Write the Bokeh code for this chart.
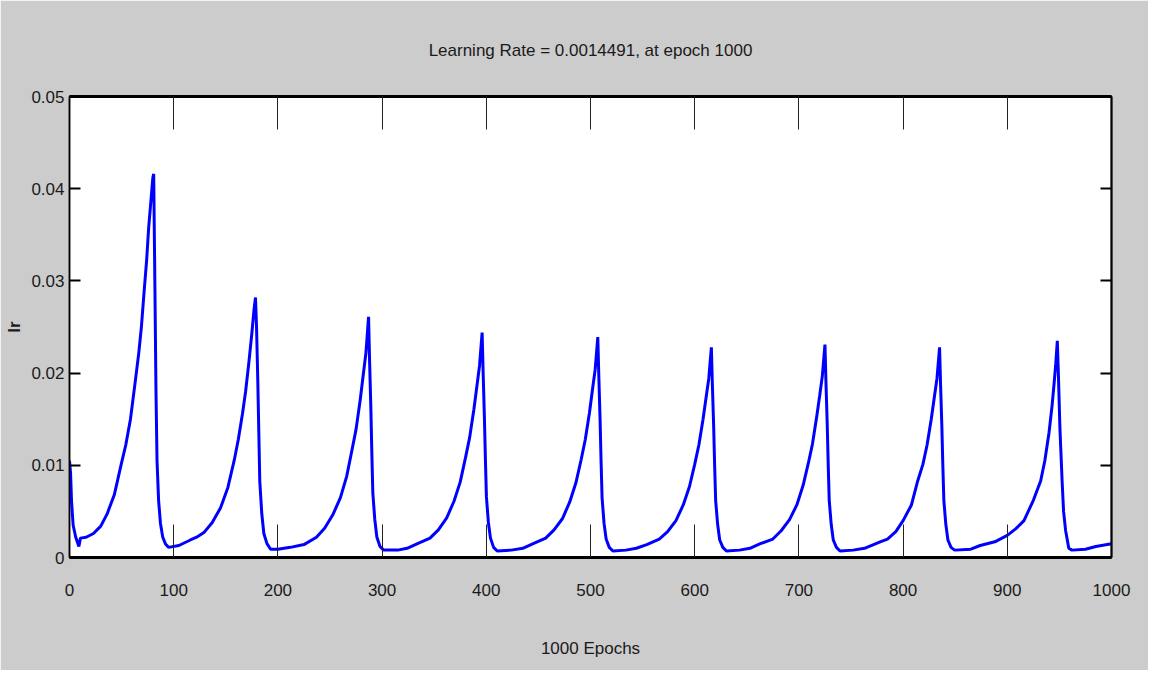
from bokeh.plotting import figure
from bokeh.models import Range1d, LinearAxis, FixedTicker, CustomJSTickFormatter
from bokeh.embed import file_html
from bokeh.resources import INLINE

# ---- data (epoch, learning rate) ----
c1_epoch = [0, 1, 2, 3.5, 6, 9, 10.5, 16, 23, 30, 36, 43, 49, 54, 58.5, 63, 66.5, 69, 71.5, 74, 76, 78, 80, 80.8,
            82, 83, 84, 85.5, 87.3, 89.5, 92, 95, 105]
c1_lr = [0.0105, 0.0092, 0.0060, 0.0035, 0.0022, 0.0012, 0.0021, 0.0022, 0.0026, 0.0034, 0.0047, 0.0068, 0.0098,
         0.0122, 0.0150, 0.0190, 0.0222, 0.0250, 0.0287, 0.0322, 0.0358, 0.0385, 0.0412, 0.0416,
         0.0290, 0.0180, 0.0105, 0.0062, 0.0037, 0.0022, 0.0015, 0.0011, 0.0013]

c2_epoch = [116, 122, 129, 137, 145, 152, 158, 162, 166, 169, 172, 175, 177, 178.5, 179.5, 180.7, 181.7, 182.6,
            184.5, 186.5, 189.5, 193, 200, 212]
c2_lr = [0.0019, 0.0022, 0.0027, 0.0038, 0.0054, 0.0076, 0.0105, 0.0128, 0.0156, 0.0180, 0.0210, 0.0243, 0.0268,
         0.0282, 0.0250, 0.0192, 0.0135, 0.0083, 0.0048, 0.0026, 0.0015, 0.0009, 0.0009, 0.0011]

c3_epoch = [225, 237, 245, 253, 260, 266, 271, 275, 279, 282, 284.5, 287, 288, 289.2, 290.2, 291.1, 293, 295, 298,
            301.5, 315]
c3_lr = [0.0014, 0.0022, 0.0032, 0.0047, 0.0065, 0.0088, 0.0116, 0.0139, 0.0171, 0.0199, 0.0222, 0.0261, 0.0213,
         0.0162, 0.0111, 0.0070, 0.0041, 0.0022, 0.0012, 0.0008, 0.0008]

c4_epoch = [324, 334, 346, 354, 362, 369, 375, 380, 384, 388, 391, 393.5, 396, 397, 398.2, 399.2, 400.1, 402, 404,
            407, 410.5, 424]
c4_lr = [0.0010, 0.0015, 0.0021, 0.0030, 0.0043, 0.0061, 0.0082, 0.0108, 0.0130, 0.0160, 0.0186, 0.0208, 0.0244,
         0.0199, 0.0151, 0.0104, 0.0066, 0.0038, 0.0021, 0.0011, 0.0007, 0.0008]

c5_epoch = [435, 445, 457, 465, 473, 480, 486, 491, 495, 499, 502, 504.5, 507, 508, 509.2, 510.2, 511.1, 513, 515,
            518, 521.5, 534]
c5_lr = [0.0010, 0.0015, 0.0021, 0.0030, 0.0042, 0.0060, 0.0081, 0.0106, 0.0128, 0.0157, 0.0183, 0.0204, 0.0239,
         0.0196, 0.0149, 0.0102, 0.0065, 0.0037, 0.0020, 0.0011, 0.0007, 0.0008]

c6_epoch = [544, 554, 566, 574, 582, 589, 595, 600, 604, 608, 611, 613.5, 616, 617, 618.2, 619.2, 620.1, 622, 624,
            627, 630.5, 643]
c6_lr = [0.0010, 0.0014, 0.0020, 0.0028, 0.0040, 0.0057, 0.0077, 0.0101, 0.0122, 0.0150, 0.0174, 0.0194, 0.0228,
         0.0186, 0.0142, 0.0097, 0.0062, 0.0036, 0.0019, 0.0011, 0.0007, 0.0008]

c7_epoch = [653, 663, 675, 683, 691, 698, 704, 709, 713, 717, 720, 722.5, 725, 726, 727.2, 728.2, 729.1, 731, 733,
            736, 739.5, 752]
c7_lr = [0.0010, 0.0015, 0.0020, 0.0029, 0.0041, 0.0057, 0.0078, 0.0102, 0.0123, 0.0152, 0.0176, 0.0197, 0.0231,
         0.0189, 0.0144, 0.0098, 0.0062, 0.0036, 0.0019, 0.0011, 0.0007, 0.0008]

c8_epoch = [763, 778, 785, 793, 800, 808, 814, 819, 823, 827, 830, 832.5, 835, 836, 837.2, 838.2, 839.1, 841, 843,
            846, 849.5, 865]
c8_lr = [0.0010, 0.0017, 0.0020, 0.0028, 0.0040, 0.0057, 0.0083, 0.0101, 0.0122, 0.0150, 0.0174, 0.0194, 0.0228,
         0.0186, 0.0142, 0.0097, 0.0062, 0.0036, 0.0019, 0.0011, 0.0008, 0.0009]

c9_epoch = [874, 888, 900, 908, 916, 925, 932, 936, 940, 943, 945, 946.5, 948, 949, 950.5, 952.6, 954, 956, 959,
            962, 975, 985, 1000]
c9_lr = [0.0013, 0.0017, 0.0024, 0.0031, 0.0040, 0.0062, 0.0083, 0.0105, 0.0135, 0.0165, 0.0190, 0.0210, 0.0235,
         0.0200, 0.0140, 0.0083, 0.0050, 0.0029, 0.0010, 0.0008, 0.0009, 0.0012, 0.0015]

epochs = c1_epoch + c2_epoch + c3_epoch + c4_epoch + c5_epoch + c6_epoch + c7_epoch + c8_epoch + c9_epoch
lr = c1_lr + c2_lr + c3_lr + c4_lr + c5_lr + c6_lr + c7_lr + c8_lr + c9_lr

x_ticks = [0, 100, 200, 300, 400, 500, 600, 700, 800, 900, 1000]
y_ticks = [0, 0.01, 0.02, 0.03, 0.04, 0.05]
y_tick_labels = ["0", "0.01", "0.02", "0.03", "0.04", "0.05"]

title_text = "Learning Rate = 0.0014491, at epoch 1000"
x_label = "1000 Epochs"
y_label = "lr"

# ---- styling ----
FONT = "'Liberation Sans Narrow', 'Arial Narrow', 'Liberation Sans', sans-serif"
BG = "#cccccc"
TXT = "#1a1a1a"

p = figure(width=1148, height=670, output_backend="svg", toolbar_location=None,
           x_range=Range1d(0, 1000), y_range=Range1d(0, 0.05),
           min_border_left=69, min_border_right=37, min_border_top=96, min_border_bottom=113,
           background_fill_color="white", border_fill_color=BG)

p.line(epochs, lr, line_color="#0000ff", line_width=3)

p.grid.visible = False
p.outline_line_color = "black"
p.outline_line_width = 1.5

p.title.text = title_text
p.title.align = "center"
p.title.text_font = FONT
p.title.text_font_size = "17px"
p.title.text_font_style = "normal"
p.title.text_color = TXT
p.title.standoff = 73

blank = CustomJSTickFormatter(code="return ''")

# bottom axis
xa = p.xaxis[0]
xa.ticker = FixedTicker(ticks=x_ticks)
xa.major_tick_in = 33
xa.major_tick_out = 0
xa.major_tick_line_color = "#222222"
xa.major_tick_line_width = 1
xa.minor_tick_line_color = None
xa.axis_line_width = 3
xa.axis_line_color = "black"
xa.major_label_text_font = FONT
xa.major_label_text_font_size = "17px"
xa.major_label_text_color = TXT
xa.major_label_standoff = 26
xa.axis_label = x_label
xa.axis_label_text_font = FONT
xa.axis_label_text_font_size = "17px"
xa.axis_label_text_font_style = "normal"
xa.axis_label_text_color = TXT
xa.axis_label_standoff = 40

# left axis
ya = p.yaxis[0]
ya.ticker = FixedTicker(ticks=y_ticks)
ya.major_label_overrides = dict(zip(y_ticks, y_tick_labels))
ya.major_tick_in = 11
ya.major_tick_out = 0
ya.major_tick_line_color = "black"
ya.major_tick_line_width = 2
ya.minor_tick_line_color = None
ya.axis_line_width = 1.5
ya.axis_line_color = "black"
ya.major_label_text_font = FONT
ya.major_label_text_font_size = "17px"
ya.major_label_text_color = TXT
ya.major_label_standoff = 5
ya.axis_label = y_label
ya.axis_label_text_font = FONT
ya.axis_label_text_font_size = "17px"
ya.axis_label_text_font_style = "bold"
ya.axis_label_text_color = TXT
ya.axis_label_standoff = 4

# top axis (ticks only)
top = LinearAxis(ticker=FixedTicker(ticks=x_ticks), formatter=blank,
                 major_tick_in=33, major_tick_out=0, major_tick_line_color="#222222",
                 major_tick_line_width=1, minor_tick_line_color=None,
                 axis_line_width=3, axis_line_color="black", major_label_standoff=0)
p.add_layout(top, "above")

# right axis (ticks only)
right = LinearAxis(ticker=FixedTicker(ticks=y_ticks), formatter=blank,
                   major_tick_in=11, major_tick_out=0, major_tick_line_color="black",
                   major_tick_line_width=2, minor_tick_line_color=None,
                   axis_line_width=2, axis_line_color="black", major_label_standoff=0)
p.add_layout(right, "right")

open("out.html", "w").write(file_html(p, INLINE))
